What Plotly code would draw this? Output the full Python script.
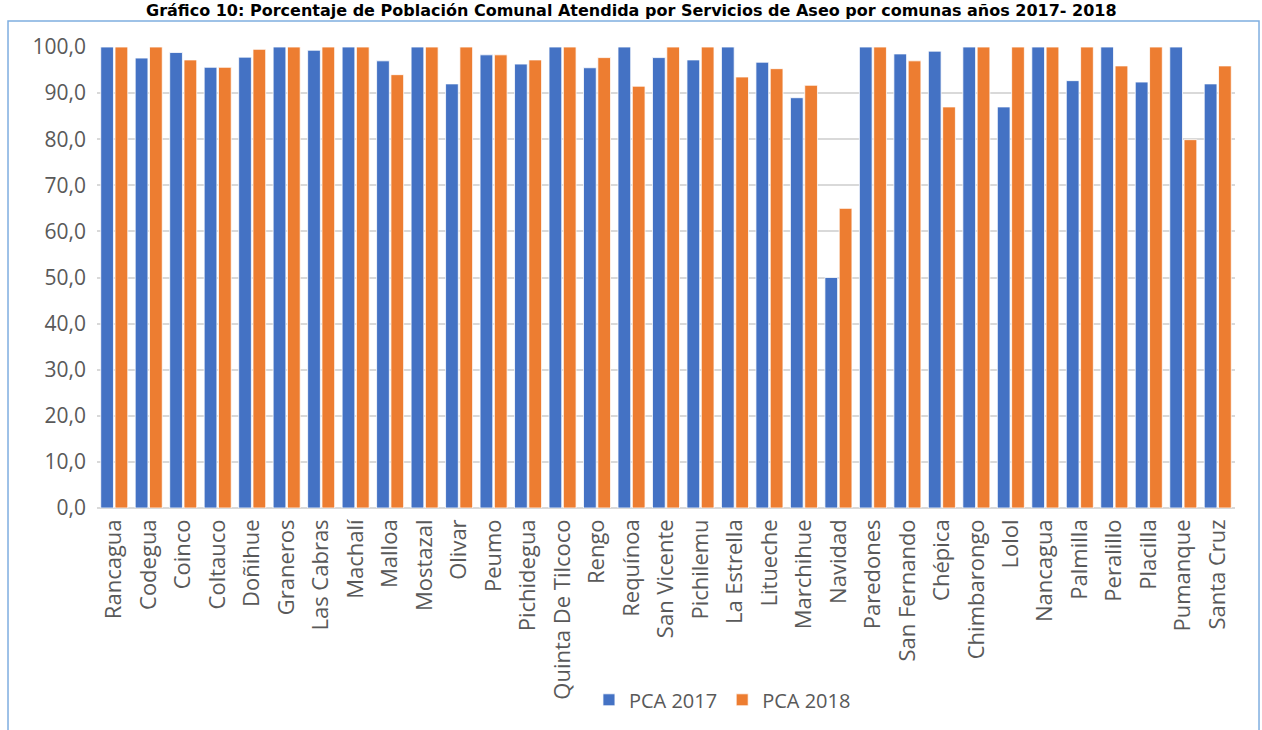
import plotly.graph_objects as go

comunas = [
    "Rancagua", "Codegua", "Coinco", "Coltauco", "Doñihue", "Graneros",
    "Las Cabras", "Machalí", "Malloa", "Mostazal", "Olivar", "Peumo",
    "Pichidegua", "Quinta De Tilcoco", "Rengo", "Requínoa", "San Vicente",
    "Pichilemu", "La Estrella", "Litueche", "Marchihue", "Navidad",
    "Paredones", "San Fernando", "Chépica", "Chimbarongo", "Lolol",
    "Nancagua", "Palmilla", "Peralillo", "Placilla", "Pumanque", "Santa Cruz",
]
pca_2017 = [
    100, 97.6, 98.8, 95.6, 97.8, 100,
    99.3, 100, 97.0, 100, 92.0, 98.3,
    96.3, 100, 95.5, 100, 97.7,
    97.2, 100, 96.7, 89.0, 50.0,
    100, 98.5, 99.1, 100, 87.0,
    100, 92.7, 100, 92.4, 100, 92.0,
]
pca_2018 = [
    100, 100, 97.2, 95.6, 99.5, 100,
    100, 100, 94.0, 100, 100, 98.3,
    97.2, 100, 97.7, 91.5, 100,
    100, 93.5, 95.3, 91.7, 65.0,
    100, 97.0, 87.0, 100, 100,
    100, 100, 95.9, 100, 79.9, 95.9,
]
y_ticks = [0, 10, 20, 30, 40, 50, 60, 70, 80, 90, 100]
y_labels = ["0,0", "10,0", "20,0", "30,0", "40,0", "50,0",
            "60,0", "70,0", "80,0", "90,0", "100,0"]

titulo = ("Gráfico 10: Porcentaje de Población Comunal Atendida por Servicios "
          "de Aseo por comunas años 2017- 2018")

fig = go.Figure()

fig.add_trace(go.Bar(
    x=comunas, y=pca_2017, name="PCA 2017",
    marker=dict(color="#4472C4", line=dict(color="white", width=0.8)),
))
fig.add_trace(go.Bar(
    x=comunas, y=pca_2018, name="PCA 2018",
    marker=dict(color="#ED7D31", line=dict(color="white", width=0.8)),
))

fig.update_layout(
    width=1262, height=730,
    margin=dict(l=97, r=27, t=47, b=221),
    paper_bgcolor="white", plot_bgcolor="white",
    barmode="group", bargap=0.17, bargroupgap=0.11,
    font=dict(family="Open Sans", color="#595959", size=17),
    showlegend=True,
    legend=dict(
        orientation="h", x=0.4323, xanchor="left", y=-0.413, yanchor="middle",
        font=dict(size=20, color="#595959"), bgcolor="rgba(0,0,0,0)",
        itemwidth=30,
    ),
    shapes=[dict(
        type="rect", xref="paper", yref="paper",
        x0=-0.0782, x1=1.0211, y0=-1.0, y1=1.0563,
        line=dict(color="#7FAEE0", width=1.5), fillcolor="rgba(0,0,0,0)",
        layer="below",
    )],
    annotations=[dict(
        text="<b>" + titulo + "</b>", xref="paper", yref="paper",
        x=0.4697, y=1.0801, xanchor="center", yanchor="middle",
        showarrow=False, font=dict(family="DejaVu Sans", size=16, color="black"),
    )],
)

fig.update_xaxes(
    tickangle=-90, showgrid=False, showline=False, ticks="",
    tickfont=dict(size=22, color="#595959"), ticklabelstandoff=6,
)
fig.update_yaxes(
    range=[0, 100], tickvals=y_ticks, ticktext=y_labels,
    showgrid=True, gridcolor="#D9D9D9", gridwidth=1.5,
    zeroline=True, zerolinecolor="#D9D9D9", zerolinewidth=1.5,
    showline=False, ticks="", ticklabelstandoff=10,
    tickfont=dict(size=21, color="#595959"),
)

fig.write_html("out.html", config={"displayModeBar": False},
               post_script="document.body.style.margin='0px';")
